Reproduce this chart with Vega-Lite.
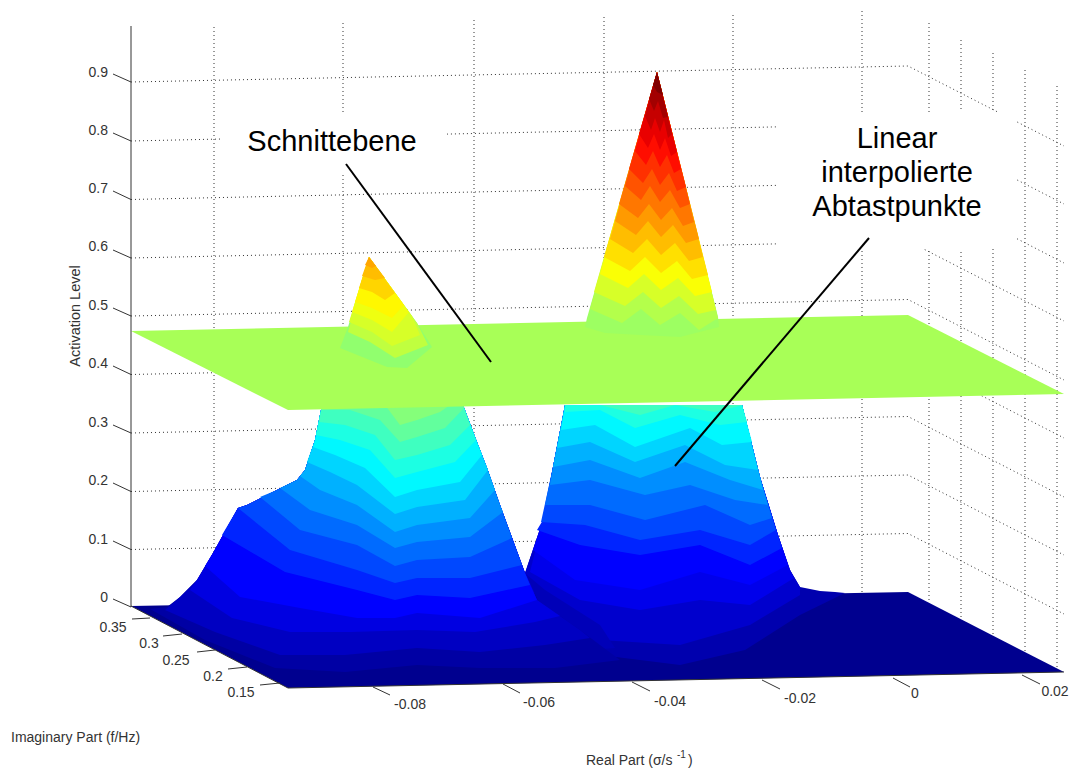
{"$schema":"https://vega.github.io/schema/vega-lite/v6.json","width":1071,"height":770,"padding":0,"autosize":{"type":"fit","contains":"padding"},"background":"white","view":{"stroke":null},
"datasets":{
"grid":[
{"g":"h9","x":131,"y":82},{"g":"h9","x":908,"y":66},{"g":"h9","x":1064,"y":146},
{"g":"h8","x":131,"y":141},{"g":"h8","x":908,"y":124},{"g":"h8","x":1064,"y":204},
{"g":"h7","x":131,"y":199.5},{"g":"h7","x":908,"y":182.5},{"g":"h7","x":1064,"y":263},
{"g":"h6","x":131,"y":258},{"g":"h6","x":908,"y":241},{"g":"h6","x":1064,"y":321},
{"g":"h5","x":131,"y":316},{"g":"h5","x":908,"y":299.5},{"g":"h5","x":1064,"y":380},
{"g":"h4","x":131,"y":374.5},{"g":"h4","x":908,"y":358},{"g":"h4","x":1064,"y":438},
{"g":"h3","x":131,"y":433},{"g":"h3","x":908,"y":416.5},{"g":"h3","x":1064,"y":497},
{"g":"h2","x":131,"y":491.5},{"g":"h2","x":908,"y":475},{"g":"h2","x":1064,"y":555},
{"g":"h1","x":131,"y":549.5},{"g":"h1","x":908,"y":533.5},{"g":"h1","x":1064,"y":614},
{"g":"v1","x":214,"y":27},{"g":"v1","x":214,"y":604},
{"g":"v2","x":343,"y":23},{"g":"v2","x":343,"y":602},
{"g":"v3","x":474,"y":20},{"g":"v3","x":474,"y":600},
{"g":"v4","x":604,"y":17},{"g":"v4","x":604,"y":598},
{"g":"v5","x":733,"y":15},{"g":"v5","x":733,"y":596},
{"g":"v6","x":862,"y":11},{"g":"v6","x":862,"y":594},
{"g":"w1","x":929,"y":23},{"g":"w1","x":929,"y":603},
{"g":"w2","x":961,"y":40},{"g":"w2","x":961,"y":619},
{"g":"w3","x":993,"y":53},{"g":"w3","x":993,"y":636},
{"g":"w4","x":1025,"y":70},{"g":"w4","x":1025,"y":652},
{"g":"w5","x":1057,"y":86},{"g":"w5","x":1057,"y":668}
],
"boxes":[{"x":222,"x2":447,"y":113,"y2":175},{"x":778,"x2":1017,"y":112,"y2":249}],
"axes":[
{"g":"za","x":131,"y":26},{"g":"za","x":131,"y":607},
{"g":"t9","x":131,"y":82},{"g":"t9","x":113,"y":74},
{"g":"t8","x":131,"y":141},{"g":"t8","x":113,"y":133},
{"g":"t7","x":131,"y":199.5},{"g":"t7","x":113,"y":191},
{"g":"t6","x":131,"y":258},{"g":"t6","x":113,"y":250},
{"g":"t5","x":131,"y":316},{"g":"t5","x":113,"y":308},
{"g":"t4","x":131,"y":374.5},{"g":"t4","x":113,"y":366},
{"g":"t3","x":131,"y":433},{"g":"t3","x":113,"y":425},
{"g":"t2","x":131,"y":491.5},{"g":"t2","x":113,"y":483},
{"g":"t1","x":131,"y":549.5},{"g":"t1","x":113,"y":541},
{"g":"t0","x":131,"y":607},{"g":"t0","x":113,"y":599},
{"g":"i1","x":132,"y":619},{"g":"i1","x":150,"y":618},
{"g":"i2","x":163,"y":636},{"g":"i2","x":182,"y":634},
{"g":"i3","x":197,"y":652},{"g":"i3","x":215,"y":650},
{"g":"i4","x":228,"y":669},{"g":"i4","x":247,"y":667},
{"g":"i5","x":260,"y":685},{"g":"i5","x":280,"y":683},
{"g":"r1","x":373,"y":687},{"g":"r1","x":390,"y":695},
{"g":"r2","x":503,"y":684},{"g":"r2","x":520,"y":693},
{"g":"r3","x":632,"y":682},{"g":"r3","x":650,"y":691},
{"g":"r4","x":762,"y":680},{"g":"r4","x":780,"y":689},
{"g":"r5","x":893,"y":678},{"g":"r5","x":910,"y":687},
{"g":"r6","x":1022,"y":675},{"g":"r6","x":1040,"y":684},
{"g":"fe","x":288,"y":688},{"g":"fe","x":1064,"y":672},
{"g":"le","x":131,"y":606},{"g":"le","x":288,"y":688}
],
"surface":[
{"p":"b","z":0,"x":131,"y":606},{"p":"b","z":0,"x":908,"y":592},{"p":"b","z":0,"x":1064,"y":672},{"p":"b","z":0,"x":288,"y":688},
{"p":"r1","z":0.03,"x":540,"y":625},{"p":"r1","z":0.03,"x":600,"y":655},{"p":"r1","z":0.03,"x":680,"y":665},{"p":"r1","z":0.03,"x":745,"y":650},{"p":"r1","z":0.03,"x":800,"y":615},{"p":"r1","z":0.03,"x":845,"y":593},{"p":"r1","z":0.03,"x":835,"y":592},{"p":"r1","z":0.03,"x":820,"y":591},{"p":"r1","z":0.03,"x":800,"y":587},{"p":"r1","z":0.03,"x":790,"y":570},{"p":"r1","z":0.03,"x":778,"y":535},{"p":"r1","z":0.03,"x":760,"y":477},{"p":"r1","z":0.03,"x":742,"y":405},{"p":"r1","z":0.03,"x":565,"y":405},{"p":"r1","z":0.03,"x":553,"y":467},{"p":"r1","z":0.03,"x":543,"y":520},{"p":"r1","z":0.03,"x":525,"y":573},
{"p":"r2","z":0.06,"x":530,"y":590},{"p":"r2","z":0.06,"x":600,"y":640},{"p":"r2","z":0.06,"x":680,"y":645},{"p":"r2","z":0.06,"x":750,"y":625},{"p":"r2","z":0.06,"x":800,"y":595},{"p":"r2","z":0.06,"x":800,"y":587},{"p":"r2","z":0.06,"x":790,"y":570},{"p":"r2","z":0.06,"x":778,"y":535},{"p":"r2","z":0.06,"x":760,"y":477},{"p":"r2","z":0.06,"x":742,"y":405},{"p":"r2","z":0.06,"x":565,"y":405},{"p":"r2","z":0.06,"x":553,"y":467},{"p":"r2","z":0.06,"x":543,"y":520},{"p":"r2","z":0.06,"x":525,"y":573},
{"p":"r3","z":0.09,"x":530,"y":572},{"p":"r3","z":0.09,"x":580,"y":600},{"p":"r3","z":0.09,"x":640,"y":610},{"p":"r3","z":0.09,"x":700,"y":600},{"p":"r3","z":0.09,"x":750,"y":605},{"p":"r3","z":0.09,"x":794,"y":578},{"p":"r3","z":0.09,"x":790,"y":570},{"p":"r3","z":0.09,"x":778,"y":535},{"p":"r3","z":0.09,"x":760,"y":477},{"p":"r3","z":0.09,"x":742,"y":405},{"p":"r3","z":0.09,"x":565,"y":405},{"p":"r3","z":0.09,"x":553,"y":467},{"p":"r3","z":0.09,"x":543,"y":520},
{"p":"r4","z":0.11,"x":533,"y":550},{"p":"r4","z":0.11,"x":575,"y":580},{"p":"r4","z":0.11,"x":640,"y":590},{"p":"r4","z":0.11,"x":700,"y":572},{"p":"r4","z":0.11,"x":750,"y":585},{"p":"r4","z":0.11,"x":788,"y":565},{"p":"r4","z":0.11,"x":778,"y":535},{"p":"r4","z":0.11,"x":760,"y":477},{"p":"r4","z":0.11,"x":742,"y":405},{"p":"r4","z":0.11,"x":565,"y":405},{"p":"r4","z":0.11,"x":553,"y":467},{"p":"r4","z":0.11,"x":543,"y":520},
{"p":"r5","z":0.14,"x":537,"y":530},{"p":"r5","z":0.14,"x":580,"y":545},{"p":"r5","z":0.14,"x":640,"y":555},{"p":"r5","z":0.14,"x":700,"y":545},{"p":"r5","z":0.14,"x":750,"y":565},{"p":"r5","z":0.14,"x":782,"y":548},{"p":"r5","z":0.14,"x":778,"y":535},{"p":"r5","z":0.14,"x":760,"y":477},{"p":"r5","z":0.14,"x":742,"y":405},{"p":"r5","z":0.14,"x":565,"y":405},{"p":"r5","z":0.14,"x":553,"y":467},{"p":"r5","z":0.14,"x":543,"y":520},
{"p":"r6","z":0.17,"x":541,"y":522},{"p":"r6","z":0.17,"x":585,"y":525},{"p":"r6","z":0.17,"x":640,"y":540},{"p":"r6","z":0.17,"x":700,"y":530},{"p":"r6","z":0.17,"x":750,"y":545},{"p":"r6","z":0.17,"x":776,"y":530},{"p":"r6","z":0.17,"x":760,"y":477},{"p":"r6","z":0.17,"x":742,"y":405},{"p":"r6","z":0.17,"x":565,"y":405},{"p":"r6","z":0.17,"x":553,"y":467},
{"p":"r7","z":0.2,"x":545,"y":505},{"p":"r7","z":0.2,"x":590,"y":505},{"p":"r7","z":0.2,"x":645,"y":520},{"p":"r7","z":0.2,"x":705,"y":505},{"p":"r7","z":0.2,"x":750,"y":525},{"p":"r7","z":0.2,"x":772,"y":518},{"p":"r7","z":0.2,"x":760,"y":477},{"p":"r7","z":0.2,"x":742,"y":405},{"p":"r7","z":0.2,"x":565,"y":405},{"p":"r7","z":0.2,"x":553,"y":467},
{"p":"r8","z":0.23,"x":550,"y":485},{"p":"r8","z":0.23,"x":590,"y":480},{"p":"r8","z":0.23,"x":645,"y":495},{"p":"r8","z":0.23,"x":690,"y":485},{"p":"r8","z":0.23,"x":735,"y":500},{"p":"r8","z":0.23,"x":768,"y":505},{"p":"r8","z":0.23,"x":760,"y":477},{"p":"r8","z":0.23,"x":742,"y":405},{"p":"r8","z":0.23,"x":565,"y":405},{"p":"r8","z":0.23,"x":553,"y":467},
{"p":"r9","z":0.26,"x":553,"y":467},{"p":"r9","z":0.26,"x":590,"y":460},{"p":"r9","z":0.26,"x":640,"y":478},{"p":"r9","z":0.26,"x":685,"y":462},{"p":"r9","z":0.26,"x":730,"y":480},{"p":"r9","z":0.26,"x":763,"y":490},{"p":"r9","z":0.26,"x":760,"y":477},{"p":"r9","z":0.26,"x":742,"y":405},{"p":"r9","z":0.26,"x":565,"y":405},
{"p":"r10","z":0.29,"x":557,"y":448},{"p":"r10","z":0.29,"x":590,"y":442},{"p":"r10","z":0.29,"x":635,"y":462},{"p":"r10","z":0.29,"x":685,"y":445},{"p":"r10","z":0.29,"x":725,"y":465},{"p":"r10","z":0.29,"x":758,"y":470},{"p":"r10","z":0.29,"x":742,"y":405},{"p":"r10","z":0.29,"x":565,"y":405},
{"p":"r11","z":0.32,"x":561,"y":430},{"p":"r11","z":0.32,"x":595,"y":425},{"p":"r11","z":0.32,"x":635,"y":447},{"p":"r11","z":0.32,"x":690,"y":428},{"p":"r11","z":0.32,"x":722,"y":445},{"p":"r11","z":0.32,"x":752,"y":442},{"p":"r11","z":0.32,"x":742,"y":405},{"p":"r11","z":0.32,"x":565,"y":405},
{"p":"r12","z":0.35,"x":565,"y":412},{"p":"r12","z":0.35,"x":600,"y":410},{"p":"r12","z":0.35,"x":635,"y":428},{"p":"r12","z":0.35,"x":680,"y":415},{"p":"r12","z":0.35,"x":720,"y":425},{"p":"r12","z":0.35,"x":747,"y":422},{"p":"r12","z":0.35,"x":742,"y":405},{"p":"r12","z":0.35,"x":565,"y":405},
{"p":"r13","z":0.38,"x":600,"y":405},{"p":"r13","z":0.38,"x":640,"y":415},{"p":"r13","z":0.38,"x":675,"y":405},{"p":"r13","z":0.38,"x":715,"y":412},{"p":"r13","z":0.38,"x":743,"y":405},
{"p":"w","z":0.04,"x":526,"y":574},{"p":"w","z":0.04,"x":545,"y":590},{"p":"w","z":0.04,"x":600,"y":625},{"p":"w","z":0.04,"x":615,"y":648},{"p":"w","z":0.04,"x":590,"y":650},{"p":"w","z":0.04,"x":540,"y":605},
{"p":"l1","z":0.02,"x":150,"y":609},{"p":"l1","z":0.02,"x":205,"y":640},{"p":"l1","z":0.02,"x":275,"y":668},{"p":"l1","z":0.02,"x":345,"y":672},{"p":"l1","z":0.02,"x":417,"y":665},{"p":"l1","z":0.02,"x":480,"y":668},{"p":"l1","z":0.02,"x":555,"y":668},{"p":"l1","z":0.02,"x":620,"y":660},{"p":"l1","z":0.02,"x":580,"y":630},{"p":"l1","z":0.02,"x":537,"y":600},{"p":"l1","z":0.02,"x":525,"y":573},{"p":"l1","z":0.02,"x":500,"y":505},{"p":"l1","z":0.02,"x":487,"y":468},{"p":"l1","z":0.02,"x":475,"y":437},{"p":"l1","z":0.02,"x":463,"y":405},{"p":"l1","z":0.02,"x":322,"y":405},{"p":"l1","z":0.02,"x":315,"y":440},{"p":"l1","z":0.02,"x":305,"y":470},{"p":"l1","z":0.02,"x":297,"y":480},{"p":"l1","z":0.02,"x":277,"y":490},{"p":"l1","z":0.02,"x":247,"y":505},{"p":"l1","z":0.02,"x":238,"y":508},{"p":"l1","z":0.02,"x":213,"y":553},{"p":"l1","z":0.02,"x":197,"y":580},{"p":"l1","z":0.02,"x":180,"y":597},{"p":"l1","z":0.02,"x":167,"y":607},
{"p":"l2","z":0.05,"x":165,"y":610},{"p":"l2","z":0.05,"x":215,"y":632},{"p":"l2","z":0.05,"x":280,"y":655},{"p":"l2","z":0.05,"x":345,"y":655},{"p":"l2","z":0.05,"x":417,"y":648},{"p":"l2","z":0.05,"x":480,"y":652},{"p":"l2","z":0.05,"x":545,"y":645},{"p":"l2","z":0.05,"x":590,"y":638},{"p":"l2","z":0.05,"x":580,"y":630},{"p":"l2","z":0.05,"x":537,"y":600},{"p":"l2","z":0.05,"x":525,"y":573},{"p":"l2","z":0.05,"x":500,"y":505},{"p":"l2","z":0.05,"x":487,"y":468},{"p":"l2","z":0.05,"x":475,"y":437},{"p":"l2","z":0.05,"x":463,"y":405},{"p":"l2","z":0.05,"x":322,"y":405},{"p":"l2","z":0.05,"x":315,"y":440},{"p":"l2","z":0.05,"x":305,"y":470},{"p":"l2","z":0.05,"x":297,"y":480},{"p":"l2","z":0.05,"x":277,"y":490},{"p":"l2","z":0.05,"x":247,"y":505},{"p":"l2","z":0.05,"x":238,"y":508},{"p":"l2","z":0.05,"x":213,"y":553},{"p":"l2","z":0.05,"x":197,"y":580},{"p":"l2","z":0.05,"x":180,"y":597},
{"p":"l3","z":0.08,"x":190,"y":590},{"p":"l3","z":0.08,"x":232,"y":618},{"p":"l3","z":0.08,"x":290,"y":632},{"p":"l3","z":0.08,"x":350,"y":632},{"p":"l3","z":0.08,"x":417,"y":630},{"p":"l3","z":0.08,"x":475,"y":632},{"p":"l3","z":0.08,"x":535,"y":622},{"p":"l3","z":0.08,"x":560,"y":616},{"p":"l3","z":0.08,"x":537,"y":600},{"p":"l3","z":0.08,"x":525,"y":573},{"p":"l3","z":0.08,"x":500,"y":505},{"p":"l3","z":0.08,"x":487,"y":468},{"p":"l3","z":0.08,"x":475,"y":437},{"p":"l3","z":0.08,"x":463,"y":405},{"p":"l3","z":0.08,"x":322,"y":405},{"p":"l3","z":0.08,"x":315,"y":440},{"p":"l3","z":0.08,"x":305,"y":470},{"p":"l3","z":0.08,"x":297,"y":480},{"p":"l3","z":0.08,"x":277,"y":490},{"p":"l3","z":0.08,"x":247,"y":505},{"p":"l3","z":0.08,"x":238,"y":508},{"p":"l3","z":0.08,"x":213,"y":553},{"p":"l3","z":0.08,"x":197,"y":580},
{"p":"l4","z":0.11,"x":205,"y":566},{"p":"l4","z":0.11,"x":240,"y":597},{"p":"l4","z":0.11,"x":300,"y":608},{"p":"l4","z":0.11,"x":357,"y":618},{"p":"l4","z":0.11,"x":395,"y":618},{"p":"l4","z":0.11,"x":417,"y":613},{"p":"l4","z":0.11,"x":480,"y":618},{"p":"l4","z":0.11,"x":537,"y":600},{"p":"l4","z":0.11,"x":525,"y":573},{"p":"l4","z":0.11,"x":500,"y":505},{"p":"l4","z":0.11,"x":487,"y":468},{"p":"l4","z":0.11,"x":475,"y":437},{"p":"l4","z":0.11,"x":463,"y":405},{"p":"l4","z":0.11,"x":322,"y":405},{"p":"l4","z":0.11,"x":315,"y":440},{"p":"l4","z":0.11,"x":305,"y":470},{"p":"l4","z":0.11,"x":297,"y":480},{"p":"l4","z":0.11,"x":277,"y":490},{"p":"l4","z":0.11,"x":247,"y":505},{"p":"l4","z":0.11,"x":238,"y":508},{"p":"l4","z":0.11,"x":213,"y":553},
{"p":"l5","z":0.14,"x":222,"y":535},{"p":"l5","z":0.14,"x":285,"y":572},{"p":"l5","z":0.14,"x":357,"y":590},{"p":"l5","z":0.14,"x":395,"y":600},{"p":"l5","z":0.14,"x":417,"y":595},{"p":"l5","z":0.14,"x":470,"y":598},{"p":"l5","z":0.14,"x":530,"y":585},{"p":"l5","z":0.14,"x":525,"y":573},{"p":"l5","z":0.14,"x":500,"y":505},{"p":"l5","z":0.14,"x":487,"y":468},{"p":"l5","z":0.14,"x":475,"y":437},{"p":"l5","z":0.14,"x":463,"y":405},{"p":"l5","z":0.14,"x":322,"y":405},{"p":"l5","z":0.14,"x":315,"y":440},{"p":"l5","z":0.14,"x":305,"y":470},{"p":"l5","z":0.14,"x":297,"y":480},{"p":"l5","z":0.14,"x":277,"y":490},{"p":"l5","z":0.14,"x":247,"y":505},{"p":"l5","z":0.14,"x":238,"y":508},
{"p":"l6","z":0.17,"x":238,"y":508},{"p":"l6","z":0.17,"x":290,"y":550},{"p":"l6","z":0.17,"x":357,"y":570},{"p":"l6","z":0.17,"x":395,"y":583},{"p":"l6","z":0.17,"x":417,"y":578},{"p":"l6","z":0.17,"x":470,"y":578},{"p":"l6","z":0.17,"x":522,"y":565},{"p":"l6","z":0.17,"x":500,"y":505},{"p":"l6","z":0.17,"x":487,"y":468},{"p":"l6","z":0.17,"x":475,"y":437},{"p":"l6","z":0.17,"x":463,"y":405},{"p":"l6","z":0.17,"x":322,"y":405},{"p":"l6","z":0.17,"x":315,"y":440},{"p":"l6","z":0.17,"x":305,"y":470},{"p":"l6","z":0.17,"x":297,"y":480},{"p":"l6","z":0.17,"x":277,"y":490},{"p":"l6","z":0.17,"x":247,"y":505},
{"p":"l7","z":0.2,"x":260,"y":497},{"p":"l7","z":0.2,"x":300,"y":530},{"p":"l7","z":0.2,"x":357,"y":545},{"p":"l7","z":0.2,"x":395,"y":566},{"p":"l7","z":0.2,"x":417,"y":560},{"p":"l7","z":0.2,"x":470,"y":557},{"p":"l7","z":0.2,"x":512,"y":538},{"p":"l7","z":0.2,"x":500,"y":505},{"p":"l7","z":0.2,"x":487,"y":468},{"p":"l7","z":0.2,"x":475,"y":437},{"p":"l7","z":0.2,"x":463,"y":405},{"p":"l7","z":0.2,"x":322,"y":405},{"p":"l7","z":0.2,"x":315,"y":440},{"p":"l7","z":0.2,"x":305,"y":470},{"p":"l7","z":0.2,"x":297,"y":480},{"p":"l7","z":0.2,"x":277,"y":490},
{"p":"l8","z":0.23,"x":280,"y":488},{"p":"l8","z":0.23,"x":310,"y":510},{"p":"l8","z":0.23,"x":357,"y":525},{"p":"l8","z":0.23,"x":395,"y":548},{"p":"l8","z":0.23,"x":417,"y":542},{"p":"l8","z":0.23,"x":470,"y":537},{"p":"l8","z":0.23,"x":503,"y":512},{"p":"l8","z":0.23,"x":500,"y":505},{"p":"l8","z":0.23,"x":487,"y":468},{"p":"l8","z":0.23,"x":475,"y":437},{"p":"l8","z":0.23,"x":463,"y":405},{"p":"l8","z":0.23,"x":322,"y":405},{"p":"l8","z":0.23,"x":315,"y":440},{"p":"l8","z":0.23,"x":305,"y":470},{"p":"l8","z":0.23,"x":297,"y":480},
{"p":"l9","z":0.26,"x":300,"y":476},{"p":"l9","z":0.26,"x":320,"y":490},{"p":"l9","z":0.26,"x":357,"y":505},{"p":"l9","z":0.26,"x":395,"y":532},{"p":"l9","z":0.26,"x":417,"y":525},{"p":"l9","z":0.26,"x":470,"y":518},{"p":"l9","z":0.26,"x":495,"y":490},{"p":"l9","z":0.26,"x":487,"y":468},{"p":"l9","z":0.26,"x":475,"y":437},{"p":"l9","z":0.26,"x":463,"y":405},{"p":"l9","z":0.26,"x":322,"y":405},{"p":"l9","z":0.26,"x":315,"y":440},{"p":"l9","z":0.26,"x":305,"y":470},
{"p":"l10","z":0.29,"x":307,"y":462},{"p":"l10","z":0.29,"x":330,"y":472},{"p":"l10","z":0.29,"x":357,"y":485},{"p":"l10","z":0.29,"x":395,"y":514},{"p":"l10","z":0.29,"x":417,"y":507},{"p":"l10","z":0.29,"x":465,"y":500},{"p":"l10","z":0.29,"x":488,"y":470},{"p":"l10","z":0.29,"x":475,"y":437},{"p":"l10","z":0.29,"x":463,"y":405},{"p":"l10","z":0.29,"x":322,"y":405},{"p":"l10","z":0.29,"x":315,"y":440},
{"p":"l11","z":0.32,"x":313,"y":447},{"p":"l11","z":0.32,"x":335,"y":455},{"p":"l11","z":0.32,"x":365,"y":468},{"p":"l11","z":0.32,"x":395,"y":497},{"p":"l11","z":0.32,"x":417,"y":490},{"p":"l11","z":0.32,"x":460,"y":482},{"p":"l11","z":0.32,"x":482,"y":455},{"p":"l11","z":0.32,"x":475,"y":437},{"p":"l11","z":0.32,"x":463,"y":405},{"p":"l11","z":0.32,"x":322,"y":405},{"p":"l11","z":0.32,"x":315,"y":440},
{"p":"l12","z":0.35,"x":316,"y":435},{"p":"l12","z":0.35,"x":340,"y":440},{"p":"l12","z":0.35,"x":370,"y":450},{"p":"l12","z":0.35,"x":395,"y":478},{"p":"l12","z":0.35,"x":417,"y":472},{"p":"l12","z":0.35,"x":455,"y":462},{"p":"l12","z":0.35,"x":476,"y":440},{"p":"l12","z":0.35,"x":463,"y":405},{"p":"l12","z":0.35,"x":322,"y":405},
{"p":"l13","z":0.38,"x":319,"y":422},{"p":"l13","z":0.38,"x":345,"y":425},{"p":"l13","z":0.38,"x":375,"y":435},{"p":"l13","z":0.38,"x":395,"y":460},{"p":"l13","z":0.38,"x":417,"y":455},{"p":"l13","z":0.38,"x":450,"y":445},{"p":"l13","z":0.38,"x":470,"y":425},{"p":"l13","z":0.38,"x":463,"y":405},{"p":"l13","z":0.38,"x":322,"y":405},
{"p":"l14","z":0.41,"x":322,"y":410},{"p":"l14","z":0.41,"x":350,"y":410},{"p":"l14","z":0.41,"x":380,"y":420},{"p":"l14","z":0.41,"x":400,"y":442},{"p":"l14","z":0.41,"x":417,"y":437},{"p":"l14","z":0.41,"x":445,"y":428},{"p":"l14","z":0.41,"x":464,"y":408},{"p":"l14","z":0.41,"x":463,"y":405},{"p":"l14","z":0.41,"x":322,"y":405},
{"p":"l15","z":0.44,"x":335,"y":405},{"p":"l15","z":0.44,"x":385,"y":405},{"p":"l15","z":0.44,"x":400,"y":425},{"p":"l15","z":0.44,"x":417,"y":420},{"p":"l15","z":0.44,"x":440,"y":412},{"p":"l15","z":0.44,"x":450,"y":405},
{"p":"plane","z":0.47,"x":131,"y":331},{"p":"plane","z":0.47,"x":908,"y":315},{"p":"plane","z":0.47,"x":1064,"y":394},{"p":"plane","z":0.47,"x":288,"y":410},
{"p":"a0","z":0.45,"x":340,"y":348},{"p":"a0","z":0.45,"x":387,"y":367},{"p":"a0","z":0.45,"x":407,"y":368},{"p":"a0","z":0.45,"x":432,"y":347},{"p":"a0","z":0.45,"x":417,"y":323},{"p":"a0","z":0.45,"x":369,"y":257},{"p":"a0","z":0.45,"x":348,"y":327},
{"p":"a1","z":0.49,"x":348,"y":332},{"p":"a1","z":0.49,"x":370,"y":342},{"p":"a1","z":0.49,"x":395,"y":358},{"p":"a1","z":0.49,"x":428,"y":345},{"p":"a1","z":0.49,"x":417,"y":323},{"p":"a1","z":0.49,"x":369,"y":257},
{"p":"a2","z":0.51,"x":349,"y":322},{"p":"a2","z":0.51,"x":372,"y":332},{"p":"a2","z":0.51,"x":392,"y":346},{"p":"a2","z":0.51,"x":420,"y":335},{"p":"a2","z":0.51,"x":412,"y":316},{"p":"a2","z":0.51,"x":369,"y":257},
{"p":"a3","z":0.53,"x":352,"y":312},{"p":"a3","z":0.53,"x":372,"y":320},{"p":"a3","z":0.53,"x":392,"y":332},{"p":"a3","z":0.53,"x":409,"y":312},{"p":"a3","z":0.53,"x":369,"y":257},
{"p":"a4","z":0.55,"x":355,"y":302},{"p":"a4","z":0.55,"x":372,"y":308},{"p":"a4","z":0.55,"x":392,"y":318},{"p":"a4","z":0.55,"x":404,"y":305},{"p":"a4","z":0.55,"x":369,"y":257},
{"p":"a5","z":0.58,"x":359,"y":288},{"p":"a5","z":0.58,"x":372,"y":292},{"p":"a5","z":0.58,"x":385,"y":300},{"p":"a5","z":0.58,"x":395,"y":293},{"p":"a5","z":0.58,"x":369,"y":257},
{"p":"a6","z":0.6,"x":362,"y":276},{"p":"a6","z":0.6,"x":375,"y":280},{"p":"a6","z":0.6,"x":385,"y":278},{"p":"a6","z":0.6,"x":369,"y":257},
{"p":"a7","z":0.62,"x":365,"y":265},{"p":"a7","z":0.62,"x":372,"y":268},{"p":"a7","z":0.62,"x":376,"y":266},{"p":"a7","z":0.62,"x":369,"y":257},
{"p":"c0","z":0.46,"x":585,"y":327},{"p":"c0","z":0.46,"x":605,"y":333},{"p":"c0","z":0.46,"x":640,"y":335},{"p":"c0","z":0.46,"x":680,"y":337},{"p":"c0","z":0.46,"x":719,"y":327},{"p":"c0","z":0.46,"x":718,"y":317},{"p":"c0","z":0.46,"x":657,"y":72},{"p":"c0","z":0.46,"x":587,"y":318},
{"p":"c1","z":0.48,"x":590,"y":309},{"p":"c1","z":0.48,"x":622,"y":323},{"p":"c1","z":0.48,"x":641,"y":309},{"p":"c1","z":0.48,"x":660,"y":325},{"p":"c1","z":0.48,"x":680,"y":313},{"p":"c1","z":0.48,"x":699,"y":330},{"p":"c1","z":0.48,"x":718,"y":318},{"p":"c1","z":0.48,"x":657,"y":72},
{"p":"c2","z":0.51,"x":594,"y":292},{"p":"c2","z":0.51,"x":625,"y":306},{"p":"c2","z":0.51,"x":643,"y":292},{"p":"c2","z":0.51,"x":661,"y":308},{"p":"c2","z":0.51,"x":679,"y":296},{"p":"c2","z":0.51,"x":698,"y":314},{"p":"c2","z":0.51,"x":716,"y":310},{"p":"c2","z":0.51,"x":657,"y":72},
{"p":"c3","z":0.54,"x":600,"y":274},{"p":"c3","z":0.54,"x":628,"y":288},{"p":"c3","z":0.54,"x":644,"y":274},{"p":"c3","z":0.54,"x":661,"y":290},{"p":"c3","z":0.54,"x":678,"y":278},{"p":"c3","z":0.54,"x":695,"y":296},{"p":"c3","z":0.54,"x":712,"y":292},{"p":"c3","z":0.54,"x":657,"y":72},
{"p":"c4","z":0.57,"x":604,"y":257},{"p":"c4","z":0.57,"x":630,"y":271},{"p":"c4","z":0.57,"x":645,"y":257},{"p":"c4","z":0.57,"x":661,"y":273},{"p":"c4","z":0.57,"x":677,"y":261},{"p":"c4","z":0.57,"x":692,"y":279},{"p":"c4","z":0.57,"x":708,"y":275},{"p":"c4","z":0.57,"x":657,"y":72},
{"p":"c5","z":0.6,"x":610,"y":239},{"p":"c5","z":0.6,"x":633,"y":253},{"p":"c5","z":0.6,"x":647,"y":239},{"p":"c5","z":0.6,"x":661,"y":255},{"p":"c5","z":0.6,"x":675,"y":243},{"p":"c5","z":0.6,"x":689,"y":261},{"p":"c5","z":0.6,"x":703,"y":257},{"p":"c5","z":0.6,"x":657,"y":72},
{"p":"c6","z":0.63,"x":615,"y":221},{"p":"c6","z":0.63,"x":636,"y":235},{"p":"c6","z":0.63,"x":648,"y":221},{"p":"c6","z":0.63,"x":661,"y":237},{"p":"c6","z":0.63,"x":673,"y":225},{"p":"c6","z":0.63,"x":686,"y":243},{"p":"c6","z":0.63,"x":699,"y":239},{"p":"c6","z":0.63,"x":657,"y":72},
{"p":"c7","z":0.66,"x":619,"y":204},{"p":"c7","z":0.66,"x":638,"y":218},{"p":"c7","z":0.66,"x":649,"y":204},{"p":"c7","z":0.66,"x":661,"y":220},{"p":"c7","z":0.66,"x":672,"y":208},{"p":"c7","z":0.66,"x":683,"y":226},{"p":"c7","z":0.66,"x":694,"y":222},{"p":"c7","z":0.66,"x":657,"y":72},
{"p":"c8","z":0.69,"x":625,"y":186},{"p":"c8","z":0.69,"x":641,"y":200},{"p":"c8","z":0.69,"x":650,"y":186},{"p":"c8","z":0.69,"x":660,"y":202},{"p":"c8","z":0.69,"x":670,"y":190},{"p":"c8","z":0.69,"x":680,"y":208},{"p":"c8","z":0.69,"x":690,"y":204},{"p":"c8","z":0.69,"x":657,"y":72},
{"p":"c9","z":0.72,"x":629,"y":169},{"p":"c9","z":0.72,"x":643,"y":183},{"p":"c9","z":0.72,"x":652,"y":169},{"p":"c9","z":0.72,"x":660,"y":185},{"p":"c9","z":0.72,"x":669,"y":173},{"p":"c9","z":0.72,"x":677,"y":191},{"p":"c9","z":0.72,"x":686,"y":187},{"p":"c9","z":0.72,"x":657,"y":72},
{"p":"c10","z":0.75,"x":635,"y":151},{"p":"c10","z":0.75,"x":646,"y":165},{"p":"c10","z":0.75,"x":653,"y":151},{"p":"c10","z":0.75,"x":660,"y":167},{"p":"c10","z":0.75,"x":667,"y":155},{"p":"c10","z":0.75,"x":674,"y":173},{"p":"c10","z":0.75,"x":681,"y":169},{"p":"c10","z":0.75,"x":657,"y":72},
{"p":"c11","z":0.78,"x":639,"y":134},{"p":"c11","z":0.78,"x":648,"y":148},{"p":"c11","z":0.78,"x":654,"y":134},{"p":"c11","z":0.78,"x":660,"y":150},{"p":"c11","z":0.78,"x":665,"y":138},{"p":"c11","z":0.78,"x":671,"y":156},{"p":"c11","z":0.78,"x":677,"y":152},{"p":"c11","z":0.78,"x":657,"y":72},
{"p":"c12","z":0.81,"x":645,"y":116},{"p":"c12","z":0.81,"x":651,"y":130},{"p":"c12","z":0.81,"x":655,"y":118},{"p":"c12","z":0.81,"x":660,"y":132},{"p":"c12","z":0.81,"x":664,"y":120},{"p":"c12","z":0.81,"x":668,"y":138},{"p":"c12","z":0.81,"x":672,"y":134},{"p":"c12","z":0.81,"x":657,"y":72},
{"p":"c13","z":0.84,"x":649,"y":99},{"p":"c13","z":0.84,"x":654,"y":111},{"p":"c13","z":0.84,"x":658,"y":101},{"p":"c13","z":0.84,"x":663,"y":118},{"p":"c13","z":0.84,"x":668,"y":117},{"p":"c13","z":0.84,"x":657,"y":72},
{"p":"c14","z":0.87,"x":653,"y":85},{"p":"c14","z":0.87,"x":657,"y":92},{"p":"c14","z":0.87,"x":663,"y":95},{"p":"c14","z":0.87,"x":657,"y":72}
],
"ticks":[
{"t":"0.9","x":108,"y":73},{"t":"0.8","x":108,"y":131},{"t":"0.7","x":108,"y":189},{"t":"0.6","x":108,"y":247},{"t":"0.5","x":108,"y":306},{"t":"0.4","x":108,"y":364},{"t":"0.3","x":108,"y":423},{"t":"0.2","x":108,"y":481},{"t":"0.1","x":108,"y":540},{"t":"0","x":108,"y":598}
],
"cticks":[
{"t":"0.35","x":113,"y":628},{"t":"0.3","x":149,"y":644},{"t":"0.25","x":176,"y":661},{"t":"0.2","x":213,"y":677},{"t":"0.15","x":241,"y":693},
{"t":"-0.08","x":410,"y":705},{"t":"-0.06","x":539,"y":703},{"t":"-0.04","x":670,"y":702},{"t":"-0.02","x":800,"y":699},{"t":"0","x":915,"y":694},{"t":"0.02","x":1055,"y":692}
],
"titles":[{"t":"Imaginary Part (f/Hz)","x":11,"y":738},{"t":"Real Part (σ/s","x":586,"y":761},{"t":")","x":688,"y":761}],
"sup":[{"t":"-1","x":677,"y":755}],
"ztitle":[{"t":"Activation Level","x":76,"y":316}],
"notes":[{"t":"Schnittebene","x":332,"y":142},{"t":"Linear","x":897,"y":139},{"t":"interpolierte","x":897,"y":173},{"t":"Abtastpunkte","x":897,"y":207}],
"leaders":[{"g":"a","x":346,"y":164},{"g":"a","x":491,"y":362},{"g":"b","x":869,"y":238},{"g":"b","x":675,"y":466}]
},
"encoding":{
"x":{"field":"x","type":"quantitative","scale":{"domain":[0,1071],"nice":false,"zero":false},"axis":null},
"y":{"field":"y","type":"quantitative","scale":{"domain":[770,0],"nice":false,"zero":false},"axis":null}
},
"layer":[
{"data":{"name":"grid"},"mark":{"type":"line","color":"#333333","strokeWidth":1,"strokeDash":[1,3]},"encoding":{"detail":{"field":"g"},"order":{"value":null}}},
{"data":{"name":"boxes"},"mark":{"type":"rect","color":"white"},"encoding":{"x2":{"field":"x2"},"y2":{"field":"y2"}}},
{"data":{"name":"surface"},"mark":{"type":"line","filled":true,"strokeWidth":0,"interpolate":"linear"},"encoding":{"detail":{"field":"p"},"order":{"value":null},"fill":{"field":"z","type":"quantitative","legend":null,"scale":{"domain":[0,0.109,0.326,0.544,0.761,0.87],"range":["#00008f","#0000ff","#00ffff","#ffff00","#ff0000","#800000"],"interpolate":"rgb","clamp":true}}}},
{"data":{"name":"axes"},"mark":{"type":"line","color":"#333333","strokeWidth":1},"encoding":{"detail":{"field":"g"},"order":{"value":null}}},
{"data":{"name":"leaders"},"mark":{"type":"line","color":"black","strokeWidth":2},"encoding":{"detail":{"field":"g"},"order":{"value":null}}},
{"data":{"name":"ticks"},"mark":{"type":"text","font":"Liberation Sans","fontSize":14,"align":"right","baseline":"middle","color":"#333333"},"encoding":{"text":{"field":"t"}}},
{"data":{"name":"cticks"},"mark":{"type":"text","font":"Liberation Sans","fontSize":14,"align":"center","baseline":"middle","color":"#333333"},"encoding":{"text":{"field":"t"}}},
{"data":{"name":"titles"},"mark":{"type":"text","font":"Liberation Sans","fontSize":14,"align":"left","baseline":"middle","color":"#333333"},"encoding":{"text":{"field":"t"}}},
{"data":{"name":"sup"},"mark":{"type":"text","font":"Liberation Sans","fontSize":10,"align":"left","baseline":"middle","color":"#333333"},"encoding":{"text":{"field":"t"}}},
{"data":{"name":"ztitle"},"mark":{"type":"text","font":"Liberation Sans","fontSize":14.5,"align":"center","baseline":"middle","angle":270,"color":"#333333"},"encoding":{"text":{"field":"t"}}},
{"data":{"name":"notes"},"mark":{"type":"text","font":"Liberation Sans","fontSize":29,"align":"center","baseline":"middle","color":"black"},"encoding":{"text":{"field":"t"}}}
]}
